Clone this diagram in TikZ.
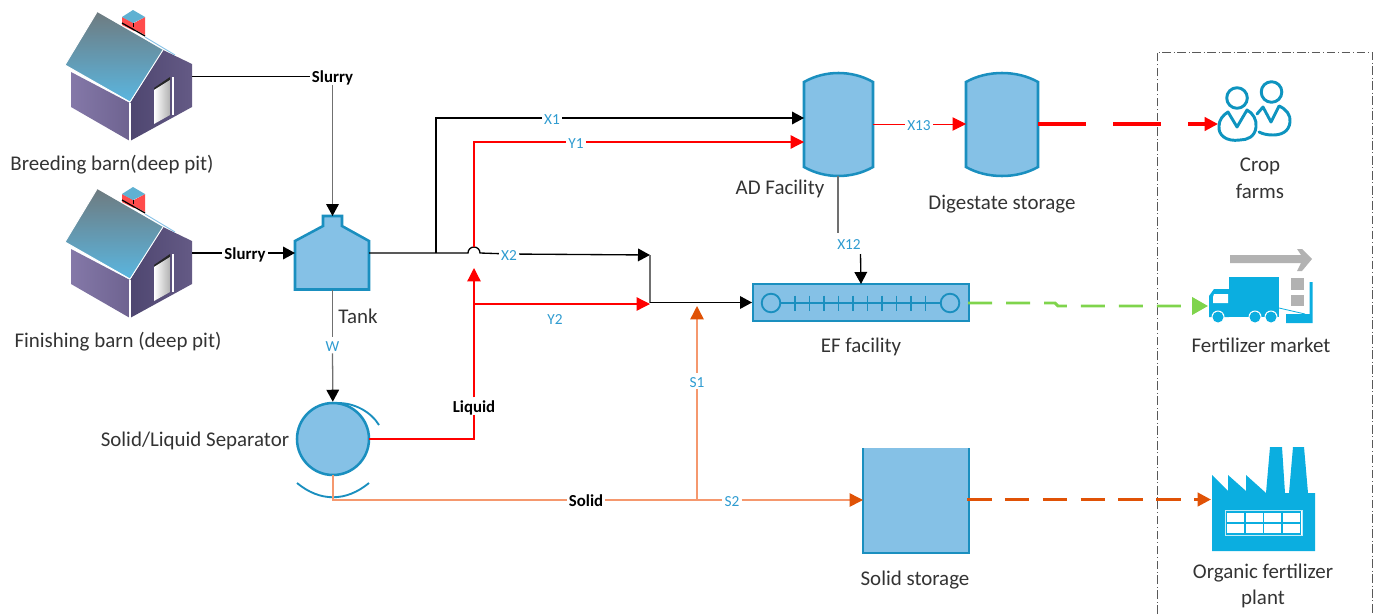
\documentclass[tikz,border=0pt]{standalone}
\usepackage{fontspec}
\setmainfont{Carlito}
\usetikzlibrary{arrows.meta,shapes.geometric}
\definecolor{tankfill}{HTML}{85C1E6}
\definecolor{tankline}{HTML}{1A8FBF}
\definecolor{lab}{HTML}{2E9BD0}
\definecolor{iconblue}{HTML}{0BAEE0}
\definecolor{peopleblue}{HTML}{0E94BF}
\definecolor{redl}{HTML}{FF0000}
\definecolor{orl}{HTML}{E05206}
\definecolor{orthin}{HTML}{F5986E}
\definecolor{grn}{HTML}{7FD44C}
\definecolor{gl}{HTML}{707070}
\definecolor{roofa}{HTML}{6E7B80}
\definecolor{roofb}{HTML}{5AB6E0}
\definecolor{walla}{HTML}{8478A8}
\definecolor{wallb}{HTML}{6E6390}
\definecolor{gabla}{HTML}{4E4670}
\definecolor{gablb}{HTML}{645A85}
\tikzset{
  vessel/.style={fill=tankfill,draw=tankline,line width=1.9pt,line join=miter},
  captxt/.style={font=\fontsize{15.7}{18}\selectfont,text=black!80,inner sep=0pt,align=center},
  flowlab/.style={font=\fontsize{11.5}{14}\selectfont,text=lab,inner sep=1.5pt,text height=9pt,text depth=0pt},
  boldlab/.style={font=\fontsize{12.6}{14}\selectfont\bfseries,text=black,inner sep=1.5pt,text height=9.5pt,text depth=0pt},
  blk/.style={draw=black,line width=1pt},
  gry/.style={draw=gl,line width=.95pt},
  redline/.style={draw=redl,line width=.95pt},
  redthin/.style={draw=redl,line width=.7pt},
  orline/.style={draw=orthin,line width=1.1pt},
  tipblack/.style={-{Triangle[length=9pt,width=9.5pt,fill=black,color=black]}},
  tipred/.style={-{Triangle[length=10pt,width=10pt,fill=redl,color=redl]}},
  tipor/.style={-{Triangle[length=10pt,width=10pt,fill=orl,color=orl]}},
  tipgrn/.style={-{Triangle[length=12pt,width=13pt,fill=grn,color=grn]}},
  icon/.style={fill=iconblue,draw=none},
  people/.style={draw=peopleblue,line width=2.2pt,line cap=round,line join=round,fill=none},
}
\newcommand{\housepic}[1]{%
\begin{scope}[yshift=#1]
  \shade[left color=gabla,right color=gablb] (163,50)--(192,64)--(192,107)--(130,141)--(130,103)--cycle;
  \shade[left color=walla,right color=wallb] (71,72)--(71,107)--(130,141)--(130,103)--cycle;
  \shade[top color=roofa,bottom color=roofb] (97,12)--(65,65)--(130,102)--(163,50)--cycle;
  \draw[white,line width=.7pt] (97,12)--(65,65)--(130,102)--(163,50);
  \draw[white,line width=.9pt] (130,103)--(130,141);
  \fill[redl!70] (134,23)--(145,17)--(145,35)--(134,29)--cycle;
  \fill[redl!70] (122,17)--(134,23)--(134,31)--(122,25)--cycle;
  \fill[tankline!70] (122,17)--(133,10)--(145,17)--(133,23)--cycle;
  \draw[black,line width=.6pt] (133,23)--(133,27);
  \draw[black,line width=.9pt] (122,23)--(145,36);
  \draw[tankfill,line width=.7pt] (145,37)--(175,55);
  \fill[black!85] (154,88)--(170,77)--(170,80)--(154,90)--cycle;
  \shade[left color=white,right color=gray!60] (154,90)--(170,80)--(170,115)--(154,124)--cycle;
  \draw[white,line width=.9pt] (173,77)--(173,115);
\end{scope}}
\begin{document}
\begin{tikzpicture}[x=.75pt,y=-.75pt]
\useasboundingbox (0,0) rectangle (1380,614);
% houses
\housepic{0pt}
\housepic{-132.75pt}
\coordinate (h1) at (192,76.5);
\coordinate (h2) at (192,253);
% vessels
\draw[vessel] (295,241)--(323,226)--(323,216)--(342,216)--(342,226)--(369,241)--(369,289.5)--(295,289.5)--cycle;
\coordinate (tankT) at (332.5,216);
\coordinate (tankW) at (295,253);
\coordinate (tankE) at (369,253);
\coordinate (tankS) at (332.5,289.5);
\node[circle,vessel,minimum size=54pt,inner sep=0pt] (sep) at (333,439) {};
\coordinate (sepE) at (369,439);
\draw[tankline,line width=1.4pt] (338,403) .. controls (355,403) and (371,412) .. (379,425);
\draw[tankline,line width=1.4pt] (297,483) .. controls (320,502) and (346,502) .. (369,483);
\draw[vessel] (804,82) .. controls (825,70) and (852,70) .. (873,82) -- (873,167) .. controls (852,179) and (825,179) .. (804,167) -- cycle;
\coordinate (adW1) at (804,118);
\coordinate (adW2) at (804,142);
\coordinate (adE) at (873,124);
\coordinate (adS) at (838,176);
\draw[vessel] (966,82) .. controls (987,70) and (1017,70) .. (1038,82) -- (1038,167) .. controls (1017,179) and (987,179) .. (966,167) -- cycle;
\coordinate (dgW) at (966,124);
\coordinate (dgE) at (1038,124);
\node[draw=tankline,fill=tankfill,line width=1.5pt,minimum width=162pt,minimum height=28pt,inner sep=0pt] (ef) at (861,302.5) {};
\coordinate (efW) at (752,302.5);
\coordinate (efT) at (861,284);
\coordinate (efE) at (968,303);
\draw[tankline,line width=1.3pt] (780,303)--(941,303);
\foreach \tx in {795,809.5,824,838.5,853,867.5,882,896.5,911,925.5}
  \draw[tankline,line width=1.2pt] (\tx,295.5)--(\tx,310.5);
\draw[tankline,line width=1.4pt] (771,303) circle[radius=9.3];
\draw[tankline,line width=1.4pt] (950,303) circle[radius=9.3];
\fill[tankfill] (863,448) rectangle (969,553);
\draw[tankline,line width=1.7pt] (863,448)--(863,553)--(969,553)--(969,448);
\coordinate (ssW) at (863,500);
\coordinate (ssE) at (967,499.5);
% dash-dot box
\draw[black!65,line width=.75pt,dash pattern=on 6.5pt off 2pt on .7pt off 2pt] (1157,614)--(1157,52)--(1372,52)--(1372,614);
% labels on connectors
\node[boldlab] (s1) at (332.5,76.5) {Slurry};
\node[boldlab] (s2) at (245,253) {Slurry};
\node[boldlab] (liq) at (474,406) {Liquid};
\node[boldlab] (sol) at (586,500) {Solid};
\node[flowlab] (x1) at (552,118) {X1};
\node[flowlab] (y1) at (576,142) {Y1};
\node[flowlab] (x2) at (509,254) {X2};
\node[flowlab] (y2) at (555,318) {Y2};
\node[flowlab] (w) at (332.5,345) {W};
\node[flowlab] (x12) at (849,243.5) {X12};
\node[flowlab] (x13) at (919,124) {X13};
\node[flowlab] (ls1) at (697,381) {S1};
\node[flowlab] (ls2) at (732,500) {S2};
% junctions
\coordinate (j1) at (436,253);
\coordinate (j1t) at (436,118);
\coordinate (jb) at (468,253);
\coordinate (r1) at (474,439);
\coordinate (r2) at (474,304);
\coordinate (r3) at (474,142);
\coordinate (rt) at (474,268);
\coordinate (rb) at (474,247);
\coordinate (m1) at (650,255);
\coordinate (m2) at (650,304);
\coordinate (m3) at (650,302.5);
\coordinate (o1) at (333,475);
\coordinate (o2) at (333,500);
\coordinate (o3) at (697,500);
\coordinate (o4) at (697,306);
\coordinate (x12a) at (838,233);
\coordinate (x12b) at (860.5,254);
% connectors
\draw[blk] (h1) -- (s1);
\draw[gry,tipblack] (s1) -- (tankT);
\draw[blk] (h2) -- (s2);
\draw[blk,tipblack] (s2) -- (tankW);
\draw[gry] (tankS) -- (w);
\draw[gry,tipblack] (w) -- (sep);
\draw[blk] (tankE) -- (jb) arc[start angle=180,end angle=360,radius=6] -- (x2);
\draw[blk,tipblack] (x2) -- (m1);
\draw[gry] (m1) -- (m3);
\draw[blk,tipblack] (m3) -- (efW);
\draw[blk] (j1) -- (j1t) -- (x1);
\draw[blk,tipblack] (x1) -- (adW1);
\draw[redline] (sepE) -- (r1) -- (liq);
\draw[redline,tipred] (liq) -- (rt);
\draw[redline] (rb) -- (r3) -- (y1);
\draw[redline,tipred] (y1) -- (adW2);
\draw[redline,tipred] (r2) -- (m2);
\draw[redthin] (adE) -- (x13);
\draw[redthin,tipred] (x13) -- (dgW);
\draw[gry] (adS) -- (x12a);
\draw[blk,tipblack] (x12b) -- (efT);
\draw[orline] (o1) -- (o2) -- (sol);
\draw[orline] (sol) -- (ls2);
\draw[orline,tipor] (ls2) -- (ssW);
\draw[orline] (o3) -- (ls1);
\draw[orline,tipor] (ls1) -- (o4);
% external flows
\coordinate (crop) at (1218,124);
\coordinate (mkt) at (1208,306);
\coordinate (fac) at (1211,499.5);
\coordinate (g1) at (1055,303);
\coordinate (g2) at (1058,306);
\draw[redl,line width=2.3pt,dash pattern=on 36pt off 20.25pt,tipred] (dgE) -- (crop);
\draw[grn,line width=2.2pt,dash pattern=on 18pt off 10.5pt,tipgrn] (efE) -- (g1) -- (g2) -- (mkt);
\draw[orl,line width=2.2pt,dash pattern=on 18.4pt off 10pt,tipor] (ssE) -- (fac);
% people
\draw[people] (1237,98) circle[radius=10.3];
\draw[people] (1271.5,92) circle[radius=10.3];
\draw[people] (1228,112) -- (1237,127) -- (1247,110) .. controls (1253,113) and (1257,120) .. (1256,127) .. controls (1255,137) and (1247,140) .. (1240,140) .. controls (1226,142) and (1218,135) .. (1219,126) .. controls (1219,120) and (1223,115) .. (1228,112) -- cycle;
\draw[people] (1257,114) -- (1263,107) -- (1271,122) -- (1279,106) .. controls (1286,109) and (1291,115) .. (1290,122) .. controls (1289,132) and (1281,135) .. (1273,135) .. controls (1267,135) and (1263,134) .. (1259,132);
% truck
\fill[gray!60] (1230,255)--(1301,255)--(1297,249)--(1302,249)--(1312,259)--(1302,271)--(1297,271)--(1301,263)--(1230,263)--cycle;
\fill[gray!60] (1291,278) rectangle (1304,290);
\fill[gray!60] (1291,295) rectangle (1304,306);
\fill[icon] (1229,277) rectangle (1279,317);
\fill[icon] (1229,289)--(1214,289)--(1209,296)--(1209,317)--(1229,317)--cycle;
\fill[white] (1214,294)--(1228,294)--(1228,303)--(1213,303)--(1213,297)--cycle;
\foreach \wx in {1218,1255,1271} {
  \fill[white] (\wx,317) circle[radius=6.5];
  \fill[icon] (\wx,317) circle[radius=5.5];
}
\draw[iconblue,line width=.6pt] (1279,308)--(1305,314);
\fill[icon] (1286,314)--(1309.5,314)--(1309.5,282)--(1312.5,282)--(1312.5,323)--(1286,323)--cycle;
% factory
\fill[icon] (1212,475)--(1228,491)--(1228,475)--(1246,491)--(1246,475)--(1266,493)--(1270,447)--(1282,447)--(1285,493)--(1289,493)--(1293,447)--(1304,447)--(1308,493)--(1315,493)--(1315,551)--(1212,551)--cycle;
\draw[white!75!iconblue,fill=white,line width=.75pt] (1225,510.5) rectangle (1302,535.5);
\draw[iconblue,line width=.8pt] (1226.5,512) rectangle (1300.5,534);
\draw[iconblue,line width=.8pt] (1226.5,523)--(1300.5,523);
\foreach \gx in {1245,1263.5,1282} \draw[iconblue,line width=.8pt] (\gx,512)--(\gx,534);
% captions
\node[captxt] (c1) at (112,165) {Breeding barn(deep pit)};
\node[captxt] (c2) at (118,342) {Finishing barn (deep pit)};
\node[captxt] (c3) at (358,316) {Tank};
\node[captxt] (c4) at (195,441) {Solid/Liquid Separator};
\node[captxt] (c5) at (780,189) {AD Facility};
\node[captxt] (c6) at (1002,204) {Digestate storage};
\node[captxt] (c7) at (861,347) {EF facility};
\node[captxt] (c8) at (915,580) {Solid storage};
\node[captxt] (c9) at (1260,166) {Crop};
\node[captxt] (c10) at (1260,191) {farms};
\node[captxt] (c11) at (1261,345) {Fertilizer market};
\node[captxt] (c12) at (1263,573) {Organic fertilizer};
\node[captxt] (c13) at (1263,599) {plant};
\end{tikzpicture}
\end{document}
